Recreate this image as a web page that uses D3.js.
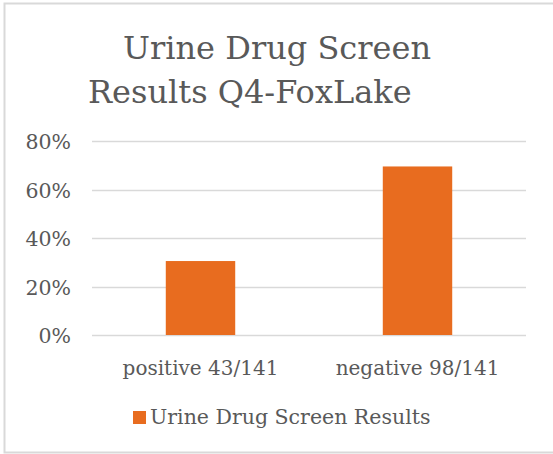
<!DOCTYPE html>
<html lang="en">
<head>
  <meta charset="UTF-8">
  <title>Urine Drug Screen Results</title>
  <script src="https://d3js.org/d3.v7.min.js"></script>
</head>
<style>
  body{
    margin:0;
    background:white;
    font-family: "DejaVu Serif", "Liberation Serif", serif;
  }
</style>
<body>
  <div id="chart"></div>
<script>
// chart data
var categories = ["positive 43/141", "negative 98/141"];
var values = [0.305, 0.695];
var tickValues = [0, 0.2, 0.4, 0.6, 0.8];
var titleLines = ["Urine Drug Screen", "Results Q4-FoxLake"];
var seriesName = "Urine Drug Screen Results";

var width = 553;
var height = 454;
var barColour = "#e86c1f";
var textColour = "#595959";
var gridColour = "#d9d9d9";

// plot area (named so they don't clash with window.top)
var plotLeft = 92, plotRight = 526, plotTop = 141, plotBottom = 335;

var svg = d3.select("#chart").append("svg")
  .attr("width", width)
  .attr("height", height);

// outer border of the chart
svg.append("rect")
  .attr("x", 4.5).attr("y", 3.5)
  .attr("width", 560).attr("height", 449)
  .attr("fill", "white")
  .attr("stroke", gridColour)
  .attr("stroke-width", 2);

// title
svg.append("text")
  .attr("x", 123).attr("y", 59)
  .attr("font-size", "32px")
  .attr("fill", textColour)
  .text(titleLines[0]);
svg.append("text")
  .attr("x", 88).attr("y", 103)
  .attr("font-size", "32px")
  .attr("fill", textColour)
  .text(titleLines[1]);

var yScale = d3.scaleLinear()
  .domain([0, 0.8])
  .range([plotBottom, plotTop]);

var xScale = d3.scaleBand()
  .domain(categories)
  .range([plotLeft, plotRight])
  .paddingInner(0.68)
  .paddingOuter(0.34);

// gridlines
svg.append("g")
  .selectAll("line")
  .data(tickValues)
  .enter()
  .append("line")
    .attr("x1", plotLeft)
    .attr("x2", plotRight)
    .attr("y1", function(d){return Math.round(yScale(d)) + 0.5;})
    .attr("y2", function(d){return Math.round(yScale(d)) + 0.5;})
    .attr("stroke", gridColour)
    .attr("stroke-width", 1.5);

// bars
svg.append("g")
  .selectAll("rect")
  .data(values)
  .enter()
  .append("rect")
    .attr("x", function(d,i){return xScale(categories[i]);})
    .attr("y", function(d){return yScale(d);})
    .attr("width", xScale.bandwidth())
    .attr("height", function(d){return plotBottom - yScale(d);})
    .attr("fill", barColour);

// y axis labels
var yAxis = d3.axisLeft(yScale)
  .tickValues(tickValues)
  .tickFormat(d3.format(".0%"))
  .tickSize(0)
  .tickPadding(0);
var yg = svg.append("g")
  .attr("transform", "translate(71,1)")
  .call(yAxis);
yg.select(".domain").remove();
yg.selectAll("text")
  .attr("font-family", "DejaVu Serif")
  .attr("font-size", "20.5px")
  .attr("fill", textColour);

// x axis labels
var xAxis = d3.axisBottom(xScale)
  .tickSize(0)
  .tickPadding(0);
var xg = svg.append("g")
  .attr("transform", "translate(0," + (plotBottom + 26) + ")")
  .call(xAxis);
xg.select(".domain").remove();
xg.selectAll("text")
  .attr("font-family", "DejaVu Serif")
  .attr("font-size", "20px")
  .attr("fill", textColour);

// legend
var legend = svg.append("g");
legend.append("rect")
  .attr("x", 133).attr("y", 411)
  .attr("width", 13).attr("height", 13)
  .attr("fill", barColour);
legend.append("text")
  .attr("x", 150).attr("y", 424)
  .attr("font-size", "20.5px")
  .attr("fill", textColour)
  .text(seriesName);
</script>
</body>
</html>
